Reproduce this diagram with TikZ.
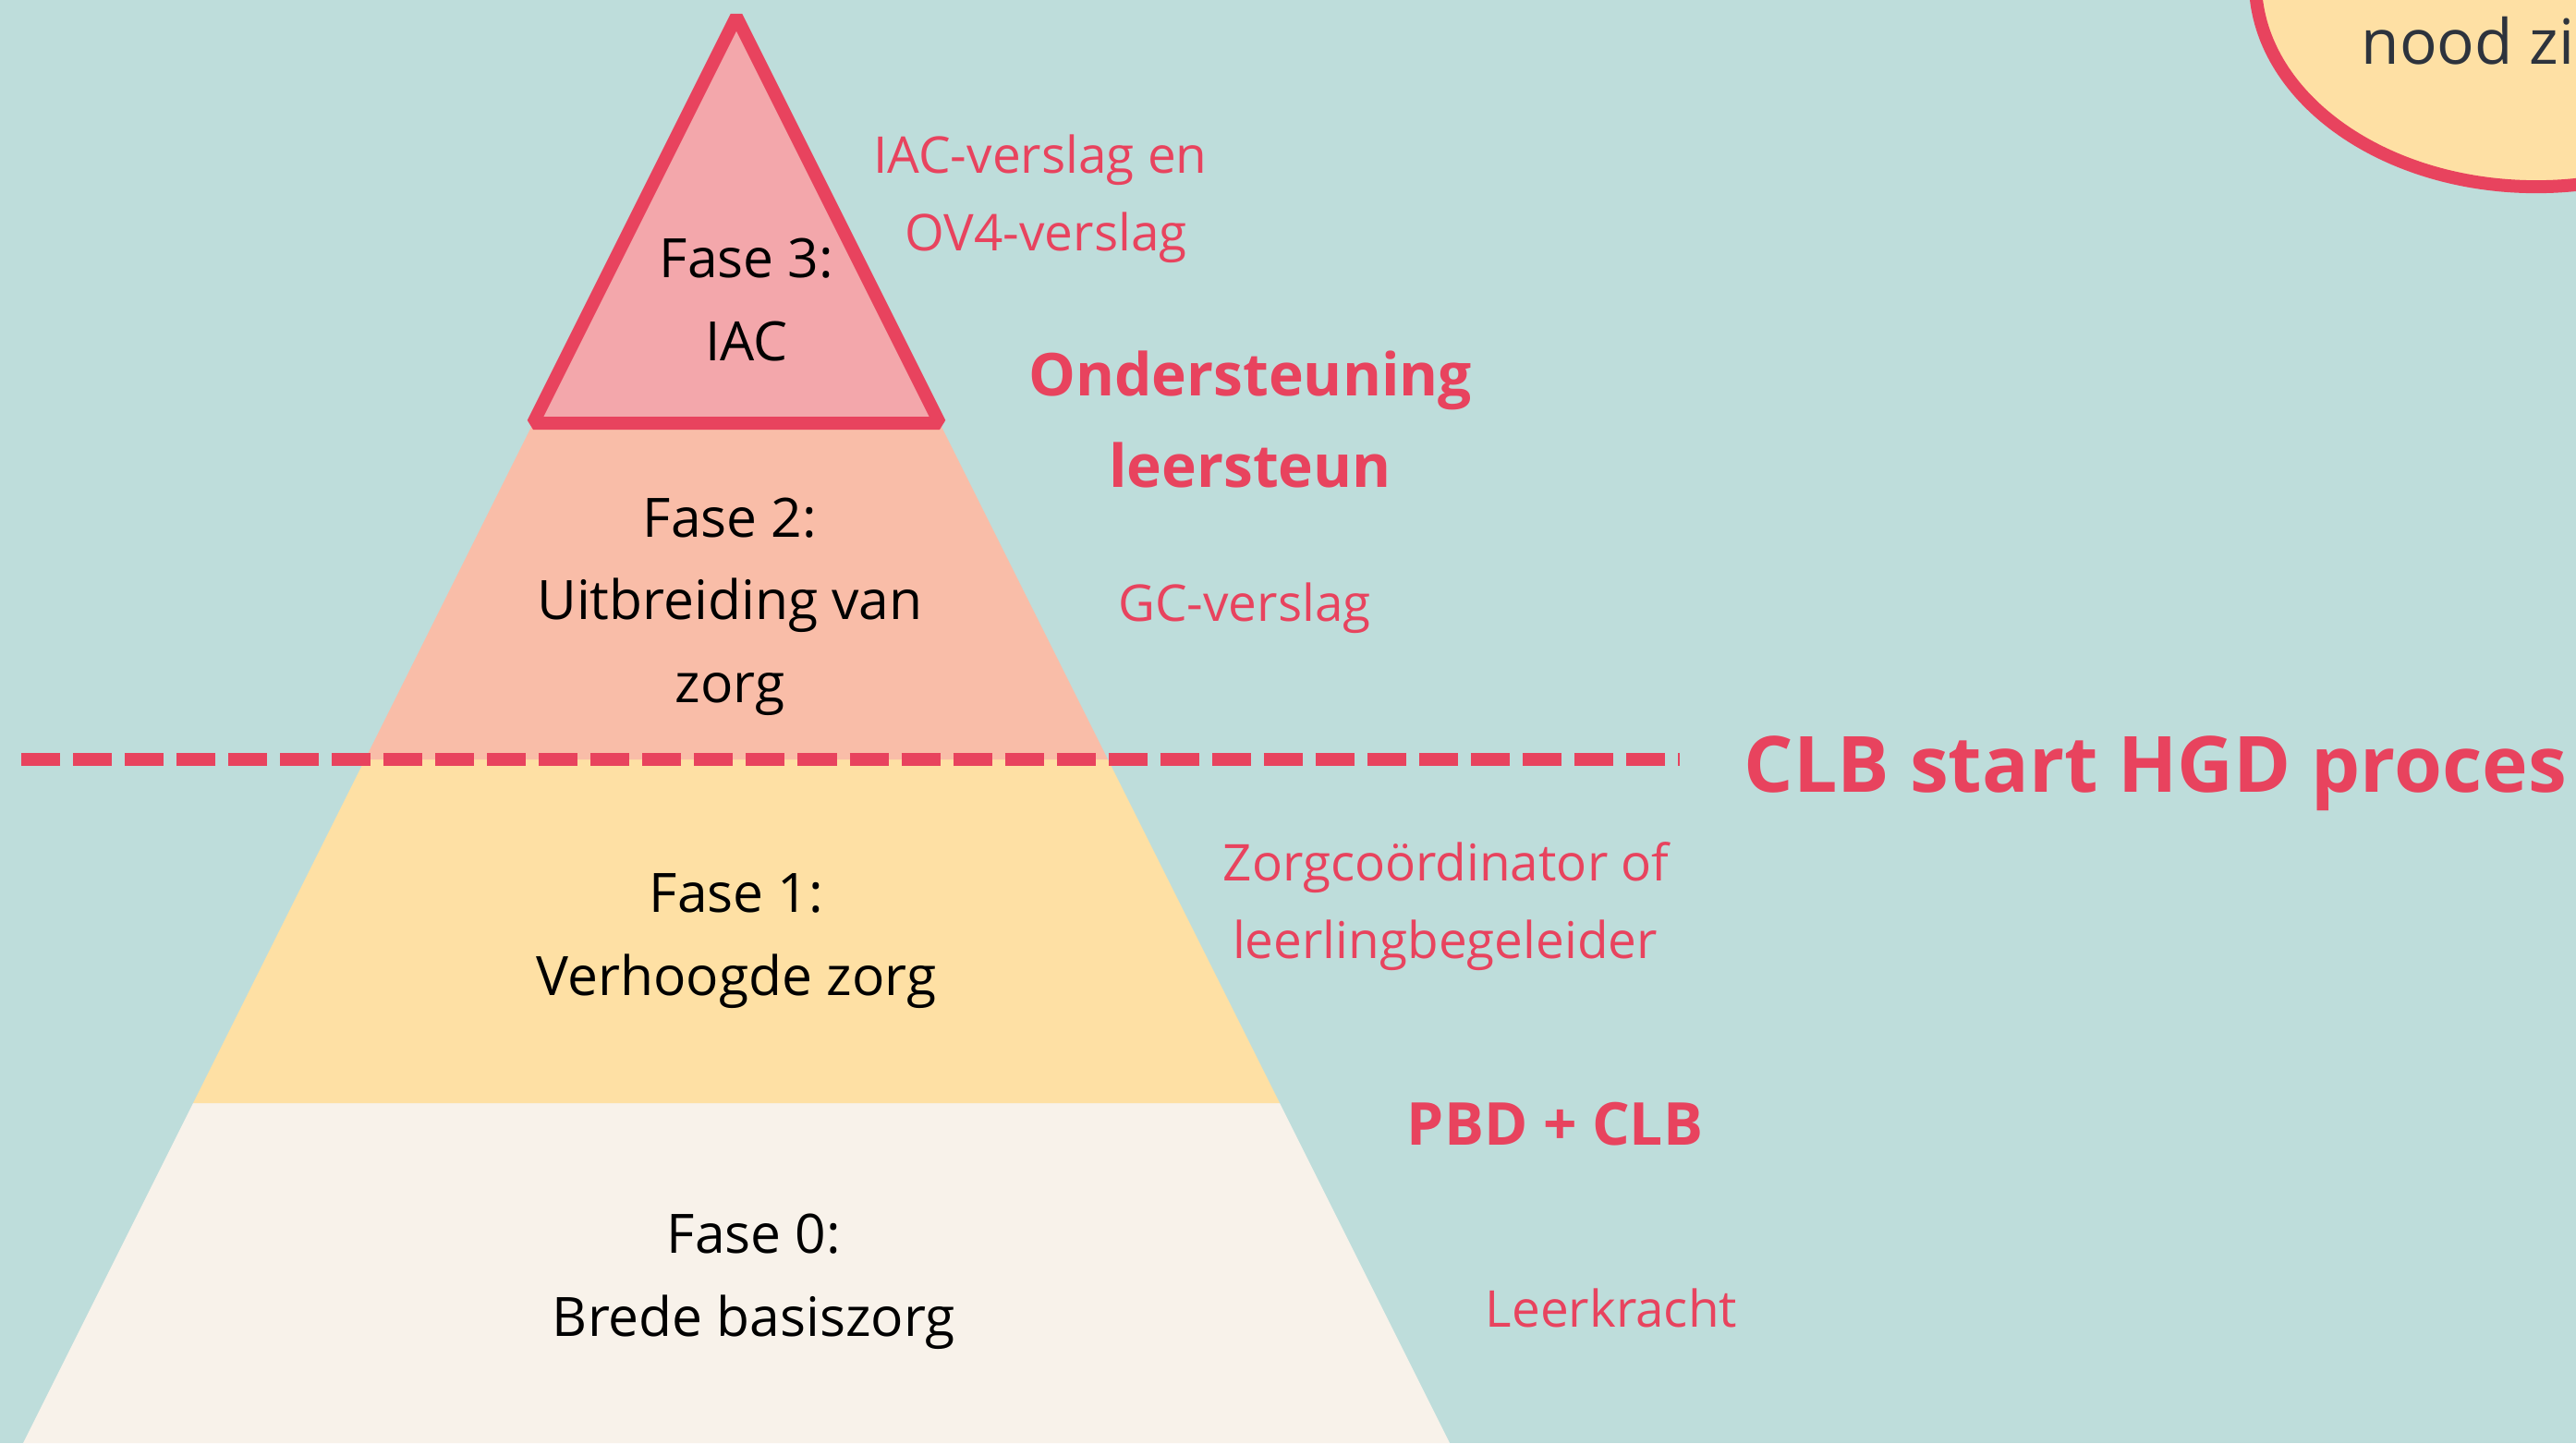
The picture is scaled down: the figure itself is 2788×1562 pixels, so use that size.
\documentclass[tikz,border=0pt]{standalone}
\usepackage{fontspec}
\setmainfont{Open Sans}
\definecolor{bgc}{RGB}{190,221,219}
\definecolor{redc}{RGB}{232,67,94}
\definecolor{pinkc}{RGB}{243,167,171}
\definecolor{peachc}{RGB}{249,189,168}
\definecolor{yellowc}{RGB}{254,224,164}
\definecolor{creamc}{RGB}{248,242,234}
\definecolor{darkc}{RGB}{45,51,61}
\begin{document}
\begin{tikzpicture}[x=0.01cm,y=-0.01cm,
  phase/.style={anchor=base, inner sep=0pt, text=black, font=\fontsize{16.7pt}{19pt}\selectfont},
  note/.style={anchor=base, inner sep=0pt, text=redc, font=\fontsize{15.6pt}{19pt}\selectfont},
  head/.style={anchor=base, inner sep=0pt, text=redc, font=\bfseries\fontsize{18.2pt}{22pt}\selectfont},
  bighead/.style={anchor=base west, inner sep=0pt, text=redc, font=\bfseries\fontsize{23.9pt}{28pt}\selectfont},
  divider/.style={draw=redc, line width=0.136cm, dash pattern=on 0.42cm off 0.14cm},
]
\useasboundingbox (0,0) rectangle (2788,1562);
\clip (0,0) rectangle (2788,1562);
\fill[bgc] (0,0) rectangle (2788,1562);

% pyramid layers
\coordinate (apex) at (797,18);
\fill[creamc] (209,1194) -- (1385,1194) -- (1569,1562) -- (25,1562) -- cycle;
\fill[yellowc] (395,822) -- (1199,822) -- (1385,1194) -- (209,1194) -- cycle;
\fill[peachc] (577,458) -- (1017,458) -- (1199,822) -- (395,822) -- cycle;
\filldraw[fill=pinkc, draw=redc, line width=0.14cm, line join=bevel]
  (apex) -- (1017,458) -- (577,458) -- cycle;

% dashed divider
\coordinate (d1) at (23,822);
\coordinate (d2) at (1818,822);
\draw[divider] (d1) -- (d2);

% ellipse top right
\filldraw[fill=yellowc, draw=redc, line width=0.14cm] (2745,-20) ellipse [x radius=3.04cm, y radius=2.22cm];
\node[anchor=base west, inner sep=0pt, text=darkc, font=\fontsize{19.2pt}{23pt}\selectfont] (nz) at (2555,69) {nood zi};

% phase labels
\node[phase] (f3a) at (808,300) {Fase 3:};
\node[phase] (f3b) at (808,390) {IAC};
\node[phase] (f2a) at (790,581) {Fase 2:};
\node[phase] (f2b) at (790,670) {Uitbreiding van};
\node[phase] (f2c) at (790,760) {zorg};
\node[phase] (f1a) at (797,987) {Fase 1:};
\node[phase] (f1b) at (797,1077) {Verhoogde zorg};
\node[phase] (f0a) at (816,1356) {Fase 0:};
\node[phase] (f0b) at (816,1446) {Brede basiszorg};

% red notes
\node[note] (n1a) at (1126,187) {IAC-verslag en};
\node[note] (n1b) at (1132,271) {OV4-verslag};
\node[note] (n2) at (1347,672) {GC-verslag};
\node[note] (n3a) at (1565,953) {Zorgcoördinator of};
\node[note] (n3b) at (1564,1037) {leerlingbegeleider};
\node[note] (n4) at (1744,1436) {Leerkracht};

% bold headings
\node[head] (h1a) at (1353,428) {Ondersteuning};
\node[head] (h1b) at (1353,527) {leersteun};
\node[head] (h2) at (1683,1239) {PBD + CLB};
\node[bighead] (h3) at (1887,857) {CLB start HGD proces};
\end{tikzpicture}
\end{document}
